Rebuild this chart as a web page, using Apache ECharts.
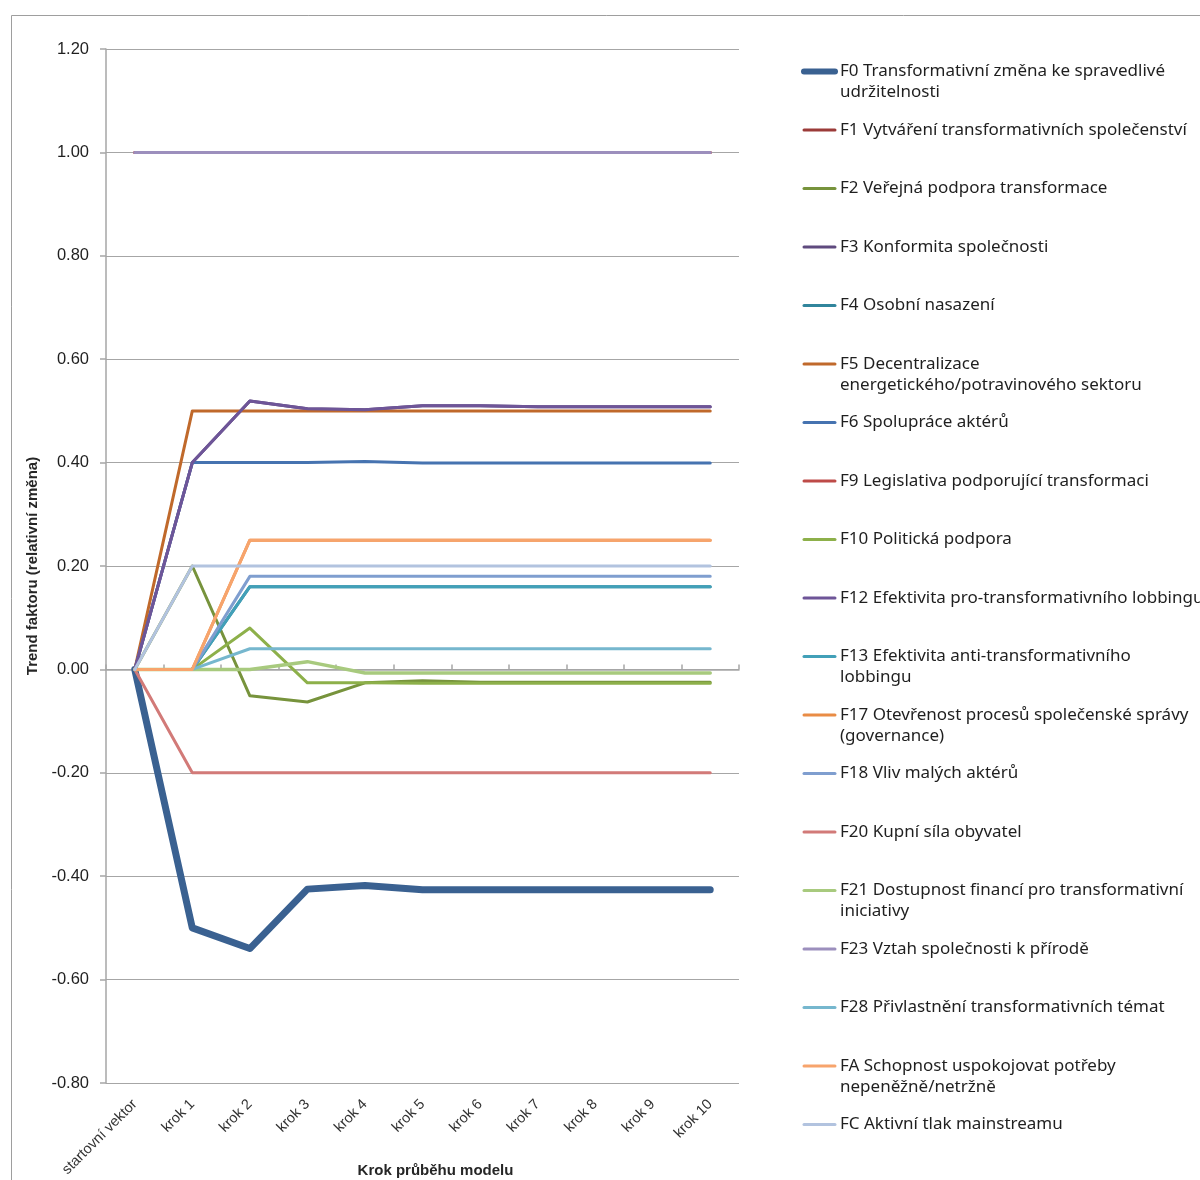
<!DOCTYPE html>
<html>
<head>
<meta charset="utf-8">
<script src="https://cdn.jsdelivr.net/npm/echarts@6/dist/echarts.min.js"></script>
<style>html,body{margin:0;padding:0;background:#fff;}#chart{width:1200px;height:1180px;}</style>
</head>
<body>
<div id="chart"></div>
<script>
const categories = ['startovní vektor','krok 1','krok 2','krok 3','krok 4','krok 5','krok 6','krok 7','krok 8','krok 9','krok 10'];

const nameLine1 = [
  'F0 Transformativní změna ke spravedlivé',
  'F1 Vytváření transformativních společenství',
  'F2 Veřejná podpora transformace',
  'F3 Konformita společnosti',
  'F4 Osobní nasazení',
  'F5 Decentralizace',
  'F6 Spolupráce aktérů',
  'F9 Legislativa podporující transformaci',
  'F10 Politická podpora',
  'F12 Efektivita pro-transformativního lobbingu',
  'F13 Efektivita anti-transformativního',
  'F17 Otevřenost procesů společenské správy',
  'F18 Vliv malých aktérů',
  'F20 Kupní síla obyvatel',
  'F21 Dostupnost financí pro transformativní',
  'F23 Vztah společnosti k přírodě',
  'F28 Přivlastnění transformativních témat',
  'FA Schopnost uspokojovat potřeby',
  'FC Aktivní tlak mainstreamu'
];
const nameLine2 = [
  'udržitelnosti', '', '', '', '',
  'energetického/potravinového sektoru', '', '', '', '',
  'lobbingu', '(governance)', '', '',
  'iniciativy', '', '', 'nepeněžně/netržně', ''
];

const colors = ['#3A6191','#9B3B39','#77933C','#5F4A7E','#31859C','#C0692B','#4673B0','#BE4B48','#8DB04A','#6E5598','#42A0B8','#E98C45','#7F9ECF','#D27A78','#A8CA7E','#9C8FBD','#76B7CE','#F7A46C','#B2C3DF'];

const F0  = [0, -0.50, -0.54, -0.425, -0.418, -0.426, -0.426, -0.426, -0.426, -0.426, -0.426];
const F1  = [1, 1, 1, 1, 1, 1, 1, 1, 1, 1, 1];
const F2  = [0, 0.20, -0.051, -0.063, -0.026, -0.022, -0.025, -0.025, -0.025, -0.025, -0.025];
const F3  = [0, 0.40, 0.519, 0.504, 0.502, 0.510, 0.510, 0.508, 0.508, 0.508, 0.508];
const F4  = [0, 0, 0.16, 0.16, 0.16, 0.16, 0.16, 0.16, 0.16, 0.16, 0.16];
const F5  = [0, 0.50, 0.50, 0.50, 0.50, 0.50, 0.50, 0.50, 0.50, 0.50, 0.50];
const F6  = [0, 0.40, 0.40, 0.40, 0.402, 0.399, 0.399, 0.399, 0.399, 0.399, 0.399];
const F9  = [1, 1, 1, 1, 1, 1, 1, 1, 1, 1, 1];
const F10 = [0, 0, 0.08, -0.026, -0.026, -0.027, -0.027, -0.027, -0.027, -0.027, -0.027];
const F12 = [0, 0.40, 0.519, 0.504, 0.502, 0.510, 0.510, 0.508, 0.508, 0.508, 0.508];
const F13 = [0, 0, 0.16, 0.16, 0.16, 0.16, 0.16, 0.16, 0.16, 0.16, 0.16];
const F17 = [0, 0, 0.25, 0.25, 0.25, 0.25, 0.25, 0.25, 0.25, 0.25, 0.25];
const F18 = [0, 0, 0.18, 0.18, 0.18, 0.18, 0.18, 0.18, 0.18, 0.18, 0.18];
const F20 = [0, -0.20, -0.20, -0.20, -0.20, -0.20, -0.20, -0.20, -0.20, -0.20, -0.20];
const F21 = [0, 0, 0, 0.015, -0.007, -0.007, -0.007, -0.007, -0.007, -0.007, -0.007];
const F23 = [1, 1, 1, 1, 1, 1, 1, 1, 1, 1, 1];
const F28 = [0, 0, 0.04, 0.04, 0.04, 0.04, 0.04, 0.04, 0.04, 0.04, 0.04];
const FA  = [0, 0, 0.25, 0.25, 0.25, 0.25, 0.25, 0.25, 0.25, 0.25, 0.25];
const FC  = [0, 0.20, 0.20, 0.20, 0.20, 0.20, 0.20, 0.20, 0.20, 0.20, 0.20];

const seriesValues = [F0,F1,F2,F3,F4,F5,F6,F9,F10,F12,F13,F17,F18,F20,F21,F23,F28,FA,FC];
const lineWidths = [7,3,3,3,3,3,3,3,3,3,3,3,3,3,3.5,3,3,3,3];

const fullNames = nameLine1.map((n, i) => nameLine2[i] ? n + ' ' + nameLine2[i] : n);

const chart = echarts.init(document.getElementById('chart'));
const gridCol = '#A6A6A6';
const axisFont = '"Liberation Sans", Arial, sans-serif';
const legendFont = '"Noto Sans", sans-serif';

const series = seriesValues.map((vals, i) => ({
  name: fullNames[i],
  type: 'line',
  data: vals,
  symbol: 'none',
  showSymbol: false,
  color: colors[i],
  lineStyle: { width: lineWidths[i], color: colors[i], cap: 'round', join: 'round' },
  emphasis: { disabled: true },
  animation: false
}));

const legendData = fullNames.map((n, i) => ({
  name: n,
  itemStyle: { opacity: 0 },
  lineStyle: { width: i === 0 ? 6 : 3, color: colors[i], cap: 'round' }
}));

chart.setOption({
  animation: false,
  backgroundColor: '#fff',
  graphic: [{
    type: 'rect', silent: true,
    shape: { x: 11.5, y: 15.5, width: 1300, height: 1300 },
    style: { fill: 'none', stroke: '#9E9E9E', lineWidth: 1 }
  }],
  grid: { left: 106, top: 49, right: 461, bottom: 97, outerBoundsMode: 'none', containLabel: false },
  legend: {
    orient: 'vertical',
    left: 801,
    top: 42,
    padding: 0,
    itemWidth: 31,
    itemHeight: 12,
    itemGap: -0.5,
    selectedMode: false,
    data: legendData,
    itemStyle: { opacity: 0 },
    formatter: function (name) {
      const i = fullNames.indexOf(name);
      return '{s| }\n{a|' + nameLine1[i] + '}\n{b|' + (nameLine2[i] || ' ') + '}';
    },
    textStyle: {
      fontFamily: legendFont,
      fontSize: 17,
      color: '#1F1F1F',
      rich: {
        s: { lineHeight: 16, fontSize: 17 },
        a: { lineHeight: 26, fontSize: 17, fontFamily: legendFont, color: '#1F1F1F' },
        b: { lineHeight: 16, fontSize: 17, fontFamily: legendFont, color: '#1F1F1F' }
      }
    }
  },
  xAxis: [{
    type: 'category',
    data: categories,
    boundaryGap: true,
    position: 'bottom',
    axisLine: { show: false, onZero: false },
    axisTick: { show: false },
    splitLine: { show: false },
    axisLabel: { rotate: 45, margin: 19, fontSize: 14.5, color: '#333333', fontFamily: axisFont, interval: 0 },
    name: 'Krok průběhu modelu',
    nameLocation: 'middle',
    nameGap: 80,
    nameMoveOverlap: false,
    nameTextStyle: { fontWeight: 'bold', fontSize: 15, color: '#262626', fontFamily: axisFont, padding: [0, 0, 0, 26] }
  }, {
    type: 'category',
    data: categories,
    boundaryGap: true,
    position: 'top',
    axisLine: { show: true, onZero: true, lineStyle: { color: gridCol, width: 1.5 } },
    axisTick: { show: true, inside: false, length: 5, interval: 0, lineStyle: { color: gridCol, width: 1.5 } },
    axisLabel: { show: false },
    splitLine: { show: false }
  }],
  yAxis: {
    type: 'value',
    min: -0.8,
    max: 1.2,
    interval: 0.2,
    axisLine: { show: true, lineStyle: { color: gridCol, width: 1.5 } },
    axisTick: { show: true, length: 6, lineStyle: { color: gridCol, width: 1.5 } },
    splitLine: { show: true, lineStyle: { color: gridCol, width: 1.2 } },
    axisLabel: {
      margin: 17, fontSize: 16.5, color: '#1F1F1F', fontFamily: axisFont,
      formatter: v => v.toFixed(2)
    },
    name: 'Trend faktoru (relativní změna)',
    nameLocation: 'middle',
    nameGap: 66,
    nameMoveOverlap: false,
    nameTextStyle: { fontWeight: 'bold', fontSize: 15, color: '#262626', fontFamily: axisFont }
  },
  series: series
});
</script>
</body>
</html>
